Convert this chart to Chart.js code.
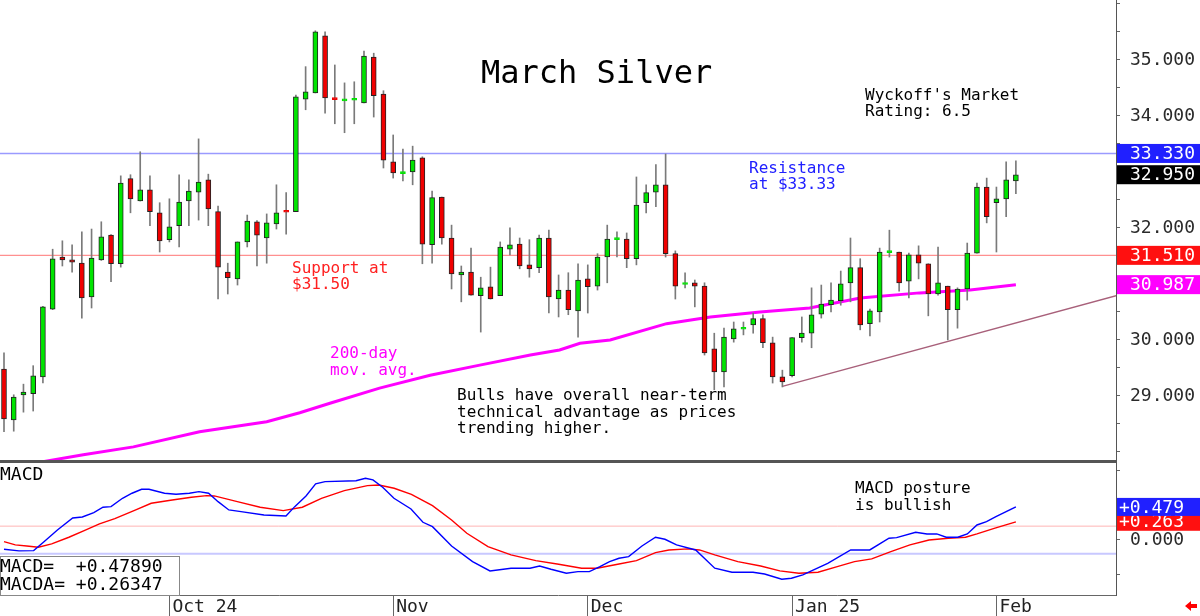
<!DOCTYPE html>
<html><head><meta charset="utf-8">
<script src="https://cdn.jsdelivr.net/npm/chart.js@4.4.1/dist/chart.umd.min.js"></script>
<style>
html,body{margin:0;padding:0;background:#fff;overflow:hidden}
#wrap{position:relative;width:1200px;height:616px}
canvas{position:absolute;left:0}
#c1{top:0;width:1200px;height:462px}
#c2{top:462px;width:1200px;height:154px}
</style></head>
<body><div id="wrap"><canvas id="c1" width="1200" height="462"></canvas><canvas id="c2" width="1200" height="154"></canvas></div>
<script>
// ---------- DATA ----------
const open  = [29.48,28.57,29.02,29.04,29.34,30.55,31.48,31.43,31.37,30.77,31.43,31.87,31.36,32.88,32.48,32.68,32.27,31.79,32.04,32.48,32.64,32.86,32.29,31.21,31.09,31.75,32.11,31.82,32.07,32.30,32.29,34.30,34.41,35.43,34.31,34.27,34.28,34.23,35.05,34.39,33.18,32.97,33.00,33.25,31.70,32.55,31.82,31.16,31.21,30.79,30.95,30.79,31.62,31.71,31.34,31.29,31.82,30.73,30.89,30.52,31.09,30.96,31.48,31.79,31.80,31.45,32.45,32.64,32.77,31.54,30.99,31.02,30.96,29.84,29.43,30.02,30.19,30.27,30.38,29.95,29.34,29.36,30.04,30.12,30.46,30.63,30.70,31.02,31.29,30.29,30.50,31.56,31.57,31.05,31.52,31.36,30.82,30.96,30.54,30.91,31.55,32.73,32.45,32.52,32.84];
const high  = [29.77,29.02,29.21,29.54,30.60,31.62,31.77,31.70,31.93,31.98,32.11,31.88,32.93,32.95,33.36,32.93,32.45,32.52,32.95,32.86,33.59,32.96,32.39,31.37,31.75,32.23,32.13,32.25,32.77,32.63,34.37,34.88,35.52,35.50,34.91,34.59,34.61,35.16,35.12,34.45,33.66,33.41,33.46,33.27,32.66,32.55,32.05,31.32,31.64,31.12,31.30,31.75,32.00,31.82,31.79,31.87,31.96,31.16,31.20,31.36,31.34,31.54,32.05,31.93,31.91,32.91,32.77,33.13,33.32,31.59,31.20,31.07,31.02,30.12,30.21,30.32,30.32,30.48,30.45,30.05,29.46,30.04,30.41,30.93,30.98,31.02,31.23,31.82,31.45,30.55,31.64,31.96,31.57,31.55,31.68,31.36,31.66,30.96,30.93,31.73,32.80,32.89,32.73,33.18,33.20];
const low   = [28.36,28.37,28.71,28.73,29.23,30.54,31.32,31.21,30.39,30.57,31.42,31.04,31.30,32.27,32.48,32.04,31.57,31.75,31.66,32.04,32.14,32.04,30.73,30.82,30.98,31.66,31.32,31.37,31.98,31.89,32.29,34.11,34.41,34.05,33.86,33.70,33.86,34.23,33.98,33.07,32.89,32.84,32.77,31.36,31.37,31.71,30.91,30.68,30.80,30.14,30.73,30.79,31.52,31.27,31.12,31.20,30.48,30.41,30.45,30.05,30.48,30.89,31.02,31.48,31.29,31.34,32.27,32.38,31.48,30.73,30.93,30.59,29.73,29.11,29.16,29.96,30.09,30.12,29.86,29.23,29.16,29.34,29.96,29.86,30.39,30.50,30.62,30.68,30.18,30.07,30.32,31.48,30.87,30.75,31.09,30.43,30.80,30.00,30.21,30.71,31.55,32.09,31.57,32.20,32.61];
const close = [28.59,28.98,29.07,29.36,30.59,31.45,31.43,31.39,30.75,31.46,31.84,31.36,32.80,32.52,32.68,32.29,31.77,32.02,32.46,32.66,32.82,32.34,31.30,31.11,31.75,32.12,31.87,32.09,32.27,32.28,34.34,34.43,35.50,34.32,34.29,34.30,34.29,35.07,34.36,33.21,32.98,32.99,33.21,31.71,32.54,31.82,31.18,31.21,30.80,30.93,30.73,31.66,31.70,31.32,31.27,31.82,30.77,30.89,30.54,31.07,30.95,31.48,31.80,31.80,31.45,32.41,32.63,32.77,31.54,30.96,31.00,30.96,29.77,29.43,30.05,30.20,30.20,30.38,29.95,29.34,29.25,30.04,30.12,30.45,30.64,30.71,31.00,31.29,30.27,30.52,31.57,31.58,31.02,31.52,31.37,30.82,31.02,30.54,30.91,31.55,32.73,32.20,32.52,32.86,32.95];

// 200-day moving average (read at bar positions)
const maIdx = [2.5,8.15,13.3,20.1,27.0,30.4,33.5,38.6,43.8,48.9,54.1,57.1,59.2,62.3,68.1,72.6,77.7,82.8,88.0,94.1,99.3,104];
const maVal = [27.78,27.95,28.09,28.36,28.54,28.70,28.87,29.14,29.37,29.55,29.73,29.82,29.94,30.00,30.29,30.41,30.50,30.57,30.75,30.84,30.89,30.987];

// trend line
const trendIdx = [80, 114.3];
const trendVal = [29.17, 30.79];

// MACD / signal
const macdIdx = [0,1.54,3.05,4.11,5.49,7.06,8.05,9.23,10.17,11.0,12.18,13.16,14.14,14.9,16.5,17.68,19.05,20.04,21.03,22.0,23.11,24.36,26.72,28.98,29.88,31.04,32.03,33.0,36.18,37.15,37.92,38.92,40.08,41.83,43.06,44.04,46.0,48.16,49.95,52.11,54.06,55.05,56.22,57.8,58.99,60.16,61.25,62.24,63.21,64.2,65.57,66.96,67.93,69.12,71.09,73.05,74.82,76.98,78.17,79.94,80.93,82.1,84.66,87.02,88.98,90.96,91.74,93.7,94.86,95.87,96.84,98.03,99.01,100.0,100.98,101.95,104];
const macdVal = [-0.135,-0.159,-0.155,-0.025,0.145,0.319,0.333,0.396,0.474,0.483,0.604,0.677,0.735,0.735,0.677,0.662,0.677,0.700,0.677,0.555,0.435,0.410,0.362,0.348,0.483,0.638,0.812,0.845,0.859,0.894,0.870,0.764,0.604,0.449,0.256,0.193,-0.087,-0.314,-0.449,-0.410,-0.410,-0.377,-0.425,-0.483,-0.459,-0.459,-0.387,-0.314,-0.265,-0.242,-0.087,0.039,0.010,-0.072,-0.145,-0.410,-0.468,-0.468,-0.493,-0.570,-0.555,-0.507,-0.338,-0.145,-0.145,0.025,0.034,0.111,0.087,0.087,0.039,0.039,0.087,0.217,0.265,0.338,0.479];
const sigIdx = [0,1.16,2.34,3.53,4.9,6.67,8.24,9.81,11.39,13.36,15.13,17.29,19.26,20.83,21.61,23.98,26.33,28.7,30.66,32.63,34.98,37.35,38.53,40.1,41.87,44.04,46.0,47.57,49.74,52.11,54.66,57.01,59.37,60.95,63.21,65.0,66.96,68.34,70.3,71.48,73.05,75.42,77.77,79.74,81.7,83.66,85.64,87.41,89.18,91.15,93.11,95.07,97.05,98.82,100.0,101.77,104];
const sigVal = [-0.025,-0.072,-0.087,-0.106,-0.058,0.039,0.135,0.232,0.309,0.425,0.532,0.580,0.619,0.642,0.638,0.555,0.474,0.425,0.474,0.604,0.715,0.787,0.797,0.749,0.662,0.497,0.290,0.097,-0.097,-0.217,-0.300,-0.352,-0.410,-0.410,-0.348,-0.300,-0.184,-0.145,-0.130,-0.145,-0.217,-0.314,-0.377,-0.449,-0.483,-0.468,-0.387,-0.314,-0.275,-0.169,-0.072,0.000,0.024,0.039,0.087,0.169,0.263];

// ticks / labels / levels
const dateTickIdx = [17,40,60,81,102];
const dateTickLabels = ['Oct 24','Nov','Dec','Jan 25','Feb'];
const priceTickLabels = [29,30,32,34,35];
const macdTickLabels = [0];
const resistance = 33.33, support = 31.51, lastClose = 32.95, ma200Last = 30.987;
const macdLast = 0.47890, signalLast = 0.26347;
const zoneHigh = 0.2, zoneLow = -0.2;

const title = 'March Silver';
const notes = {
  rating: ["Wyckoff's Market", 'Rating: 6.5'],
  resist: ['Resistance', 'at $33.33'],
  support: ['Support at', '$31.50'],
  ma: ['200-day', 'mov. avg.'],
  bulls: ['Bulls have overall near-term', 'technical advantage as prices', 'trending higher.'],
  macdNote: ['MACD posture', 'is bullish']
};

// ---------- STYLE ----------
const MONO = '"DejaVu Sans Mono","Liberation Mono",monospace';
const GREEN = '#00e400', RED = '#f00000';
const X_MIN = -0.411, X_MAX = 114.29;
Chart.defaults.font.family = MONO;
Chart.defaults.animation = false;

const isDoji = i => Math.abs(open[i] - close[i]) < 0.035;
const fillOf = i => close[i] >= open[i] ? GREEN : RED;
const noPad = s => { s.paddingTop = 0; s.paddingBottom = 0; s.paddingLeft = 0; s.paddingRight = 0; };

const hLine = (v, color, w) => ({
  type: 'line', data: [{x: X_MIN - 1, y: v}, {x: X_MAX + 1, y: v}],
  borderColor: color, borderWidth: w, pointRadius: 0, order: 5
});

// ---------- PRICE CHART ----------
const priceDecor = {
  id: 'priceDecor',
  beforeDraw(chart) { const c = chart.ctx; c.save(); c.fillStyle = '#fff'; c.fillRect(0, 0, chart.width, chart.height); c.restore(); },
  afterDraw(chart) {
    const c = chart.ctx, ys = chart.scales.y, ca = chart.chartArea;
    c.save();
    c.fillStyle = '#555'; c.fillRect(0, chart.height - 2, ca.right, 2);
    c.textAlign = 'left'; c.textBaseline = 'alphabetic';
    c.fillStyle = '#000'; c.font = '32px ' + MONO; c.fillText(title, 481, 83);
    c.font = '16px ' + MONO;
    const lines = (arr, x, y0, dy, col) => { c.fillStyle = col; arr.forEach((t, k) => c.fillText(t, x, y0 + k * dy)); };
    lines(notes.rating, 865, 100, 15.5, '#000');
    lines(notes.resist, 749, 173, 16, '#2020ff');
    lines(notes.support, 292, 273, 15.5, '#ff2020');
    lines(notes.ma, 330, 358, 17, '#ff00ff');
    lines(notes.bulls, 457, 400, 16.5, '#000');
    // right-hand value boxes
    const box = (v, bg) => {
      const y = ys.getPixelForValue(v);
      c.fillStyle = bg; c.fillRect(ca.right + 1, y - 9.5, chart.width - ca.right - 1, 19);
      c.fillStyle = '#fff'; c.font = '18px ' + MONO; c.textBaseline = 'middle';
      c.fillText(v.toFixed(3), 1130, y + 1);
    };
    box(ma200Last, '#ff00ff');
    box(support, '#ff1010');
    box(lastClose, '#000');
    box(resistance, '#2020ff');
    c.restore();
  }
};

new Chart(document.getElementById('c1'), {
  type: 'bar',
  data: {
    datasets: [
      {
        label: 'body', order: 0, grouped: false, barThickness: 5, minBarLength: 2,
        data: open.map((o, i) => ({x: i, y: [o, close[i]]})),
        backgroundColor: ctx => ctx.dataIndex === undefined ? GREEN : fillOf(ctx.dataIndex),
        borderColor: ctx => ctx.dataIndex === undefined ? '#000' : (isDoji(ctx.dataIndex) ? fillOf(ctx.dataIndex) : '#222'),
        borderWidth: 1, borderSkipped: false
      },
      {
        label: 'wick', order: 1, grouped: false, barThickness: 1,
        data: low.map((l, i) => ({x: i, y: [l, high[i]]})),
        backgroundColor: '#7a7a7a', borderWidth: 0
      },
      {
        type: 'line', label: 'ma200', order: 2,
        data: maIdx.map((x, k) => ({x, y: maVal[k]})),
        borderColor: '#ff00ff', borderWidth: 3, pointRadius: 0, tension: 0
      },
      {
        type: 'line', label: 'trend', order: 3,
        data: trendIdx.map((x, k) => ({x, y: trendVal[k]})),
        borderColor: '#a8607a', borderWidth: 1.3, pointRadius: 0
      },
      hLine(resistance, '#9a9aff', 1.6),
      hLine(support, '#ff9090', 1.4)
    ]
  },
  options: {
    responsive: false,
    layout: {padding: 0, autoPadding: false},
    plugins: {legend: {display: false}, tooltip: {enabled: false}},
    events: [],
    scales: {
      x: {type: 'linear', min: X_MIN, max: X_MAX, display: false, offset: false, afterFit: noPad},
      y: {
        type: 'linear', position: 'right', min: 27.82, max: 36.07,
        afterFit(s) { s.width = 84; noPad(s); },
        afterBuildTicks(s) { const t = []; for (let v = 28; v <= 36; v += 0.5) t.push({value: v}); s.ticks = t; },
        ticks: {
          callback: v => priceTickLabels.includes(v) ? v.toFixed(3) : '',
          font: {size: 18, family: MONO}, color: '#2a2a2a', padding: 10, autoSkip: false
        },
        grid: {drawOnChartArea: false, tickLength: 4, color: '#666'},
        border: {color: '#555'}
      }
    }
  },
  plugins: [priceDecor]
});

// ---------- MACD CHART ----------
const macdDecor = {
  id: 'macdDecor',
  beforeDraw(chart) { const c = chart.ctx; c.save(); c.fillStyle = '#fff'; c.fillRect(0, 0, chart.width, chart.height); c.restore(); },
  afterDraw(chart) {
    const c = chart.ctx, ys = chart.scales.y, ca = chart.chartArea;
    c.save();
    c.fillStyle = '#555'; c.fillRect(0, 0, ca.right, 1);
    c.textAlign = 'left'; c.textBaseline = 'alphabetic';
    c.fillStyle = '#000'; c.font = '18px ' + MONO; c.fillText('MACD', 0, 18);
    c.font = '16px ' + MONO;
    notes.macdNote.forEach((t, k) => c.fillText(t, 855, 31 + k * 17));
    // value box
    c.fillStyle = '#fff'; c.fillRect(0, 94, 179, 39);
    c.strokeStyle = '#888'; c.lineWidth = 1; c.strokeRect(0.5, 94.5, 179, 39);
    c.fillStyle = '#000'; c.font = '18px ' + MONO;
    const sgn = v => (v >= 0 ? '+' : '') + v.toFixed(5);
    c.fillText('MACD=  ' + sgn(macdLast), 0, 110);
    c.fillText('MACDA= ' + sgn(signalLast), 0, 128);
    // right boxes
    const box = (v, bg, h) => {
      const y = ys.getPixelForValue(v);
      c.fillStyle = bg; c.fillRect(ca.right + 1, y - h / 2, chart.width - ca.right - 1, h);
      c.fillStyle = '#fff'; c.font = '18px ' + MONO; c.textBaseline = 'middle';
      c.fillText((v >= 0 ? '+' : '') + v.toFixed(3), 1119, y + 1);
    };
    box(signalLast, '#ff1010', 18);
    box(macdLast, '#2020ff', 18);
    // small red arrow bottom-right
    c.fillStyle = '#f00';
    c.beginPath(); c.moveTo(1185, 144); c.lineTo(1191, 139); c.lineTo(1191, 142); c.lineTo(1197, 142);
    c.lineTo(1197, 146); c.lineTo(1191, 146); c.lineTo(1191, 149); c.closePath(); c.fill();
    c.restore();
  }
};

new Chart(document.getElementById('c2'), {
  type: 'line',
  data: {
    datasets: [
      {label: 'MACD', data: macdIdx.map((x, k) => ({x, y: macdVal[k]})), borderColor: '#0000ff', borderWidth: 1.4, pointRadius: 0, tension: 0, order: 0},
      {label: 'MACDA', data: sigIdx.map((x, k) => ({x, y: sigVal[k]})), borderColor: '#ff0000', borderWidth: 1.4, pointRadius: 0, tension: 0, order: 1},
      hLine(zoneHigh, '#ffb4b4', 1),
      hLine(zoneLow, '#c8c8ff', 2)
    ]
  },
  options: {
    responsive: false,
    layout: {padding: 0, autoPadding: false},
    plugins: {legend: {display: false}, tooltip: {enabled: false}},
    events: [],
    scales: {
      x: {
        type: 'linear', min: X_MIN, max: X_MAX, offset: false, position: 'bottom',
        afterFit(s) { s.height = 21; noPad(s); },
        afterBuildTicks(s) { s.ticks = dateTickIdx.map(v => ({value: v})); },
        ticks: {
          callback: (v, i) => dateTickLabels[i], align: 'start', labelOffset: 3,
          font: {size: 18, family: MONO}, color: '#222', padding: -19, maxRotation: 0, autoSkip: false
        },
        grid: {drawOnChartArea: false, tickLength: 21, color: '#666'},
        border: {color: '#666'}
      },
      y: {
        type: 'linear', position: 'right', min: -0.798, max: 1.130,
        afterFit(s) { s.width = 84; noPad(s); },
        afterBuildTicks(s) { s.ticks = [-0.5, 0, 0.5, 1.0].map(v => ({value: v})); },
        ticks: {
          callback: v => macdTickLabels.includes(v) ? v.toFixed(3) : '',
          font: {size: 18, family: MONO}, color: '#2a2a2a', padding: 10, autoSkip: false
        },
        grid: {drawOnChartArea: false, tickLength: 4, color: '#666'},
        border: {color: '#555'}
      }
    }
  },
  plugins: [macdDecor]
});
</script></body></html>
